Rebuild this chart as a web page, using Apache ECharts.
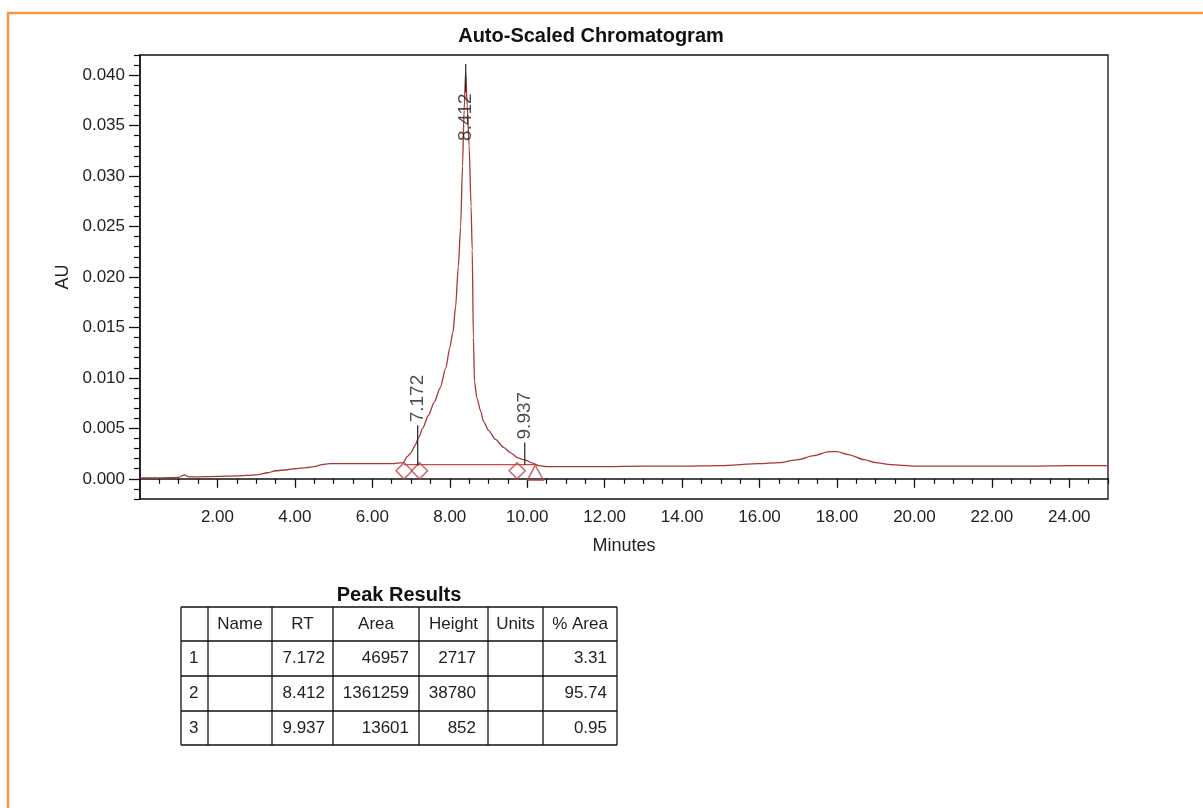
<!DOCTYPE html>
<html><head><meta charset="utf-8">
<script src="https://cdn.jsdelivr.net/npm/echarts@6/dist/echarts.min.js"></script>
<style>html,body{margin:0;padding:0;background:#fff}#c{width:1203px;height:808px}</style>
</head><body><div id="c"></div>
<script>
// ---- chromatogram trace (minutes, AU) ----
const timeMin = [0, 0.5, 1.0, 1.15, 1.25, 1.4, 2.0, 2.5, 3.0, 3.3, 3.5, 3.8, 4.0, 4.3, 4.5, 4.7, 4.9, 5.5, 6.0, 6.5, 6.8, 6.9, 7.0, 7.1, 7.2, 7.3, 7.45, 7.6, 7.75, 7.9, 8.0, 8.08, 8.15, 8.22, 8.28, 8.33, 8.37, 8.41, 8.45, 8.5, 8.55, 8.58, 8.61, 8.64, 8.7, 8.8, 8.87, 9.0, 9.18, 9.4, 9.56, 9.75, 9.9, 10.0, 10.1, 10.3, 10.5, 11, 12, 13, 14, 15, 16, 16.5, 17, 17.4, 17.8, 18.0, 18.3, 18.7, 19.0, 19.4, 20, 21, 22, 23, 24, 25];
const absAU = [0.0001, 0.0001, 0.00015, 0.0004, 0.0002, 0.0002, 0.00025, 0.0003, 0.0004, 0.0006, 0.0008, 0.0009, 0.001, 0.0011, 0.0012, 0.0014, 0.0015, 0.0015, 0.0015, 0.0015, 0.0016, 0.0022, 0.0026, 0.0033, 0.0041, 0.005, 0.0063, 0.0076, 0.009, 0.011, 0.013, 0.0145, 0.017, 0.021, 0.025, 0.031, 0.0365, 0.0403, 0.037, 0.033, 0.027, 0.0227, 0.014, 0.0096, 0.008, 0.0067, 0.0057, 0.0048, 0.0039, 0.0031, 0.0026, 0.0021, 0.0019, 0.0018, 0.0016, 0.0013, 0.0012, 0.0012, 0.0012, 0.00125, 0.00125, 0.0013, 0.0015, 0.0016, 0.0019, 0.0023, 0.0027, 0.0027, 0.0024, 0.0019, 0.0016, 0.0014, 0.00125, 0.00125, 0.00125, 0.00125, 0.0013, 0.0013];

// ---- integration baseline & markers ----
const baselineT = [6.82, 10.21];
const baselineAU = [0.0014, 0.0014];
const diamondT = [6.82, 7.22, 9.74];
const diamondAU = [0.0008, 0.0008, 0.0008];
const triangleT = [10.21];
const triangleAU = [0.0006];

// ---- peak labels ----
const peakRT = [7.172, 8.412, 9.937];
const peakLabel = ['7.172', '8.412', '9.937'];
const peakLineLow = [0.0013, 0.0383, 0.0014];
const peakLineHigh = [0.0053, 0.0411, 0.0036];
const peakLabelAt = [0.0056, 0.0382, 0.0039];
const peakLabelUp = [true, false, true];

// ---- axis ticks ----
const xLabelTicks = [2, 4, 6, 8, 10, 12, 14, 16, 18, 20, 22, 24];
const xMinorTicks = [0.5, 1, 1.5, 2.5, 3, 3.5, 4.5, 5, 5.5, 6.5, 7, 7.5, 8.5, 9, 9.5, 10.5, 11, 11.5, 12.5, 13, 13.5, 14.5, 15, 15.5, 16.5, 17, 17.5, 18.5, 19, 19.5, 20.5, 21, 21.5, 22.5, 23, 23.5, 24.5, 25];
const yLabelTicks = [0, 0.005, 0.010, 0.015, 0.020, 0.025, 0.030, 0.035, 0.040];
const yMinorTicks = [-0.002, -0.001, 0.001, 0.002, 0.003, 0.004, 0.006, 0.007, 0.008, 0.009, 0.011, 0.012, 0.013, 0.014, 0.016, 0.017, 0.018, 0.019, 0.021, 0.022, 0.023, 0.024, 0.026, 0.027, 0.028, 0.029, 0.031, 0.032, 0.033, 0.034, 0.036, 0.037, 0.038, 0.039, 0.041, 0.042];

// ---- peak results table ----
const tableHeader = ['', 'Name', 'RT', 'Area', 'Height', 'Units', '% Area'];
const peakIndex = ['1', '2', '3'];
const peakName = ['', '', ''];
const peakRTtxt = ['7.172', '8.412', '9.937'];
const peakArea = ['46957', '1361259', '13601'];
const peakHeight = ['2717', '38780', '852'];
const peakUnits = ['', '', ''];
const peakPctArea = ['3.31', '95.74', '0.95'];

const FONT = "'Liberation Sans', Arial, sans-serif";
const chart = echarts.init(document.getElementById('c'), null, {renderer: 'canvas'});

const trace = timeMin.map((t, i) => [t, absAU[i]]);
const series = [
  {type: 'line', data: baselineT.map((t, i) => [t, baselineAU[i]]), symbol: 'none', silent: true,
   lineStyle: {color: '#d04848', width: 1.2}, z: 2},
  {type: 'line', data: trace, symbol: 'none', silent: true, smooth: 0.25, smoothMonotone: 'x',
   lineStyle: {color: '#a83838', width: 1.3}, z: 3},
  {type: 'scatter', data: diamondT.map((t, i) => [t, diamondAU[i]]), symbol: 'diamond', symbolSize: [16, 16],
   itemStyle: {color: 'rgba(255,255,255,0)', borderColor: '#c04848', borderWidth: 1.6}, z: 4},
  {type: 'scatter', data: triangleT.map((t, i) => [t, triangleAU[i]]), symbol: 'triangle', symbolSize: [16, 15],
   itemStyle: {color: 'rgba(255,255,255,0)', borderColor: '#c04848', borderWidth: 1.6}, z: 4}
];
peakRT.forEach((rt, i) => {
  series.push({type: 'line', data: [[rt, peakLineLow[i]], [rt, peakLineHigh[i]]], symbol: 'none', silent: true,
    lineStyle: {color: '#222', width: 1.2}, z: 5});
  series.push({type: 'scatter', data: [[rt, peakLabelAt[i]]], symbolSize: 0, silent: true, z: 6,
    label: {show: true, formatter: peakLabel[i], rotate: 90, position: 'inside',
      align: peakLabelUp[i] ? 'left' : 'right', verticalAlign: 'middle',
      fontFamily: FONT, fontSize: 19, color: '#222'}});
});

// table graphics
const colX = [181, 208, 272, 333, 419, 488, 543, 617];
const rowY = [607, 641, 676, 711, 745];
const TF = "17px " + FONT;
const g = [];
g.push({type: 'rect', shape: {x: 8, y: 13, width: 1260, height: 900}, style: {fill: 'none', stroke: '#f79646', lineWidth: 2.5}, z: 100});
g.push({type: 'text', x: 399, y: 595, style: {text: 'Peak Results', font: "bold 20px " + FONT, fill: '#111', align: 'center', verticalAlign: 'middle'}});
colX.forEach(x => g.push({type: 'line', shape: {x1: x, y1: rowY[0], x2: x, y2: rowY[rowY.length - 1]}, style: {stroke: '#111', lineWidth: 1.3}}));
rowY.forEach(y => g.push({type: 'line', shape: {x1: colX[0], y1: y, x2: colX[colX.length - 1], y2: y}, style: {stroke: '#111', lineWidth: 1.3}}));
tableHeader.forEach((h, c) => {
  g.push({type: 'text', x: (colX[c] + colX[c + 1]) / 2, y: (rowY[0] + rowY[1]) / 2,
    style: {text: h, font: TF, fill: '#222', align: 'center', verticalAlign: 'middle'}});
});
const cols = [peakIndex, peakName, peakRTtxt, peakArea, peakHeight, peakUnits, peakPctArea];
const rightPad = [0, 0, 8, 10, 12, 0, 10];
for (let r = 0; r < 3; r++) {
  const cy = (rowY[r + 1] + rowY[r + 2]) / 2;
  cols.forEach((col, c) => {
    if (!col[r]) return;
    if (c === 0) {
      g.push({type: 'text', x: colX[0] + 8, y: cy, style: {text: col[r], font: TF, fill: '#222', align: 'left', verticalAlign: 'middle'}});
    } else {
      g.push({type: 'text', x: colX[c + 1] - rightPad[c], y: cy, style: {text: col[r], font: TF, fill: '#222', align: 'right', verticalAlign: 'middle'}});
    }
  });
}

const axisLine = {show: true, lineStyle: {color: '#111', width: 1.5}};
chart.setOption({
  animation: false,
  backgroundColor: '#fff',
  title: {text: 'Auto-Scaled Chromatogram', left: 586, top: 21, textAlign: 'center',
    textStyle: {fontFamily: FONT, fontSize: 20, fontWeight: 'bold', color: '#111'}},
  grid: {left: 140, top: 55, right: 95, bottom: 309, show: true, borderColor: '#111', borderWidth: 1.3, backgroundColor: '#fff'},
  xAxis: [
    {type: 'value', min: 0, max: 25, position: 'bottom', name: 'Minutes', nameLocation: 'middle', nameGap: 38,
     nameTextStyle: {fontFamily: FONT, fontSize: 18, color: '#222'},
     axisLine: axisLine, splitLine: {show: false},
     axisTick: {show: true, length: 9, customValues: xLabelTicks, lineStyle: {color: '#111', width: 1.3}},
     axisLabel: {show: true, customValues: xLabelTicks, margin: 10, formatter: v => v.toFixed(2),
       fontFamily: FONT, fontSize: 17, color: '#222'}},
    {type: 'value', min: 0, max: 25, position: 'bottom', axisLine: {show: false}, splitLine: {show: false},
     axisTick: {show: true, length: 5, customValues: xMinorTicks, lineStyle: {color: '#111', width: 1.2}},
     axisLabel: {show: false}}
  ],
  yAxis: [
    {type: 'value', min: -0.002, max: 0.042, position: 'left', name: 'AU', nameLocation: 'middle', nameGap: 62, nameRotate: 90,
     nameTextStyle: {fontFamily: FONT, fontSize: 18, color: '#222'},
     axisLine: axisLine, splitLine: {show: false},
     axisTick: {show: true, length: 11, customValues: yLabelTicks, lineStyle: {color: '#111', width: 1.3}},
     axisLabel: {show: true, customValues: yLabelTicks, margin: 15, formatter: v => v.toFixed(3),
       fontFamily: FONT, fontSize: 17, color: '#222'}},
    {type: 'value', min: -0.002, max: 0.042, position: 'left', axisLine: {show: false}, splitLine: {show: false},
     axisTick: {show: true, length: 6, customValues: yMinorTicks, lineStyle: {color: '#111', width: 1.2}},
     axisLabel: {show: false}}
  ],
  series: series,
  graphic: g
});
</script></body></html>
